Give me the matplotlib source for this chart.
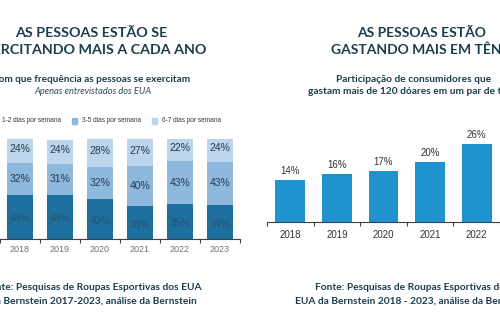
import matplotlib
matplotlib.use("Agg")
import matplotlib.pyplot as plt
import numpy as np

# ---- data ----
years_left = ["2018", "2019", "2020", "2021", "2022", "2023"]
low_freq = [44, 44, 40, 33, 35, 34]      # 1-2 dias por semana
mid_freq = [32, 31, 32, 40, 43, 43]      # 3-5 dias por semana
high_freq = [24, 24, 28, 27, 22, 24]     # 6-7 dias por semana
legend_labels = ["1-2 dias por semana", "3-5 dias por semana", "6-7 dias por semana"]

years_right = ["2018", "2019", "2020", "2021", "2022"]
share_120 = [14, 16, 17, 20, 26]

W, H = 500, 327
fig = plt.figure(figsize=(5, 3.27), dpi=100)
fig.patch.set_facecolor("white")

def ax_px(x0, y_top, w, h):
    return fig.add_axes([x0 / W, 1 - (y_top + h) / H, w / W, h / H])

FONT = "Lato"
TITLE_C = "#1c3d4e"
dark_c, mid_c, light_c = "#1d6f9e", "#8fb8dd", "#bcd5ec"

# ---- left chart ----
axL = ax_px(0, 139, 240, 100)
x = np.arange(len(years_left))
w = 0.65
axL.bar(x, low_freq, w, color=dark_c)
axL.bar(x, mid_freq, w, bottom=low_freq, color=mid_c)
bottom3 = np.array(low_freq) + np.array(mid_freq)
axL.bar(x, high_freq, w, bottom=bottom3, color=light_c)
for i in range(len(x)):
    axL.text(x[i], low_freq[i] / 2 - 2, f"{low_freq[i]}%", ha="center", va="center",
             fontsize=7.5, color="#2a5475", family="Liberation Sans")
    axL.text(x[i], low_freq[i] + mid_freq[i] / 2, f"{mid_freq[i]}%", ha="center", va="center",
             fontsize=7.5, color="#26394d", family="Liberation Sans")
    axL.text(x[i], bottom3[i] + high_freq[i] / 2 + 2, f"{high_freq[i]}%", ha="center", va="center",
             fontsize=7.5, color="#26394d", family="Liberation Sans")
axL.set_xlim(-0.046, 5.5)
axL.set_ylim(0, 100)
for s in ["top", "right", "left"]:
    axL.spines[s].set_visible(False)
axL.spines["bottom"].set_color("#404040")
axL.spines["bottom"].set_linewidth(0.8)
axL.set_yticks([])
axL.set_xticks(x)
axL.set_xticklabels(years_left, fontsize=6.5, color="#707070", family="Liberation Sans")
axL.tick_params(axis="x", which="major", length=0, pad=4)
axL.set_xticks(np.arange(-0.5, 6, 1), minor=True)
axL.tick_params(axis="x", which="minor", length=3, width=0.8, color="#404040", direction="out")

# legend (manual row)
leg_y = 121
for k, (lab, col) in enumerate(zip(legend_labels, [dark_c, mid_c, light_c])):
    sx = -8 + 80 * k
    fig.patches.append(matplotlib.patches.Rectangle((sx / W, 1 - (leg_y + 3) / H), 5 / W, 6 / H,
                                                    transform=fig.transFigure, color=col))
    fig.text((sx + 10) / W, 1 - leg_y / H, lab, fontsize=4.7, color="#333333",
             va="center", ha="left", family="Liberation Sans")

# ---- right chart ----
axR = ax_px(267, 122, 233, 100)
xr = np.arange(len(years_right))
axR.bar(xr, share_120, 0.64, color="#1f93d0")
for i, v in enumerate(share_120):
    axR.text(xr[i], v + 1.4, f"{v}%", ha="center", va="bottom", fontsize=7,
             color="#333333", family="Liberation Sans")
axR.set_xlim(-0.5, 4.115)
axR.set_ylim(0, 100 / 3)
for s in ["top", "right", "left"]:
    axR.spines[s].set_visible(False)
axR.spines["bottom"].set_color("#404040")
axR.spines["bottom"].set_linewidth(0.8)
axR.set_yticks([])
axR.set_xticks(xr)
axR.set_xticklabels(years_right, fontsize=7, color="#333333", family="Liberation Sans")
axR.tick_params(axis="x", which="major", length=0, pad=6)
axR.set_xticks(np.arange(-0.5, 5, 1), minor=True)
axR.tick_params(axis="x", which="minor", length=3, width=0.8, color="#404040", direction="out")

# ---- texts ----
def ftext(px, py, s, color=TITLE_C, **kw):
    fig.text(px / W, 1 - py / H, s, ha="center", va="center", family=FONT, color=color, **kw)

ftext(91, 33, "AS PESSOAS ESTÃO SE", fontsize=10.3, fontweight="bold")
ftext(91, 50, "EXERCITANDO MAIS A CADA ANO", fontsize=10.3, fontweight="bold")
ftext(91, 79, "Com que frequência as pessoas se exercitam", fontsize=7.2, fontweight="bold")
ftext(93, 92, "Apenas entrevistados dos EUA", color="#2b4a5c", fontsize=6.7, style="italic")

ftext(422, 33, "AS PESSOAS ESTÃO", fontsize=10, fontweight="bold")
ftext(422, 50, "GASTANDO MAIS EM TÊNIS", fontsize=10, fontweight="bold")
ftext(414, 79, "Participação de consumidores que", fontsize=7.3, fontweight="bold")
ftext(414, 91, "gastam mais de 120 dóares em um par de tênis", fontsize=7.3, fontweight="bold")

ftext(93, 287, "Fonte: Pesquisas de Roupas Esportivas dos EUA", fontsize=7.3, fontweight="bold")
ftext(93, 301, "da Bernstein 2017-2023, análise da Bernstein", fontsize=7.3, fontweight="bold")
ftext(412, 287, "Fonte: Pesquisas de Roupas Esportivas dos", fontsize=7.3, fontweight="bold")
ftext(412, 301, "EUA da Bernstein 2018 - 2023, análise da Bernstein", fontsize=7.3, fontweight="bold")

fig.savefig("out.png", dpi=100)
